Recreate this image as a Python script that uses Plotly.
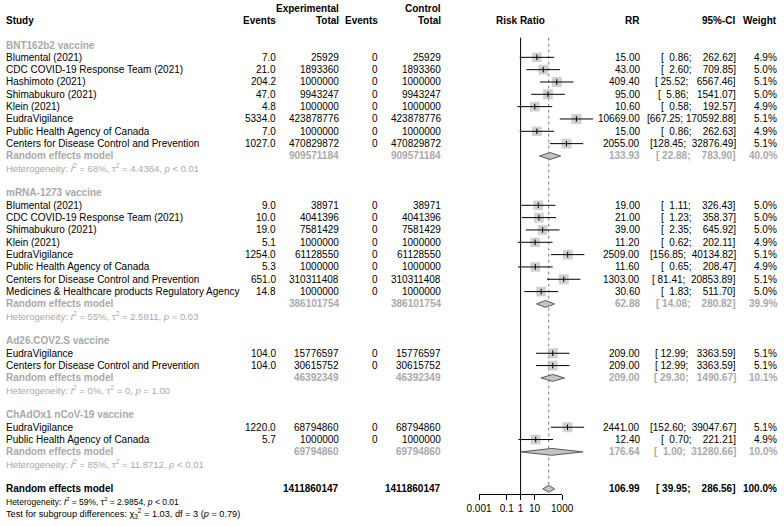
import math
import plotly.graph_objects as go

W, H = 784, 526

# ---------------- data ----------------
group_names = ["BNT162b2 vaccine", "mRNA-1273 vaccine", "Ad26.COV2.S vaccine", "ChAdOx1 nCoV-19 vaccine"]

study_group = [0, 0, 0, 0, 0, 0, 0, 0,
               1, 1, 1, 1, 1, 1, 1, 1,
               2, 2,
               3, 3]
study_names = [
    "Blumental (2021)", "CDC COVID-19 Response Team (2021)", "Hashimoto (2021)", "Shimabukuro (2021)",
    "Klein (2021)", "EudraVigilance", "Public Health Agency of Canada", "Centers for Disease Control and Prevention",
    "Blumental (2021)", "CDC COVID-19 Response Team (2021)", "Shimabukuro (2021)", "Klein (2021)",
    "EudraVigilance", "Public Health Agency of Canada", "Centers for Disease Control and Prevention",
    "Medicines & Healthcare products Regulatory Agency",
    "EudraVigilance", "Centers for Disease Control and Prevention",
    "EudraVigilance", "Public Health Agency of Canada",
]
exp_events = [7.0, 21.0, 204.2, 47.0, 4.8, 5334.0, 7.0, 1027.0,
              9.0, 10.0, 19.0, 5.1, 1254.0, 5.3, 651.0, 14.8,
              104.0, 104.0,
              1220.0, 5.7]
exp_total = [25929, 1893360, 1000000, 9943247, 1000000, 423878776, 1000000, 470829872,
             38971, 4041396, 7581429, 1000000, 61128550, 1000000, 310311408, 1000000,
             15776597, 30615752,
             68794860, 1000000]
ctrl_events = [0, 0, 0, 0, 0, 0, 0, 0,
               0, 0, 0, 0, 0, 0, 0, 0,
               0, 0,
               0, 0]
ctrl_total = [25929, 1893360, 1000000, 9943247, 1000000, 423878776, 1000000, 470829872,
              38971, 4041396, 7581429, 1000000, 61128550, 1000000, 310311408, 1000000,
              15776597, 30615752,
              68794860, 1000000]
rr = [15.00, 43.00, 409.40, 95.00, 10.60, 10669.00, 15.00, 2055.00,
      19.00, 21.00, 39.00, 11.20, 2509.00, 11.60, 1303.00, 30.60,
      209.00, 209.00,
      2441.00, 12.40]
rr_lower = [0.86, 2.60, 25.52, 5.86, 0.58, 667.25, 0.86, 128.45,
            1.11, 1.23, 2.35, 0.62, 156.85, 0.65, 81.41, 1.83,
            12.99, 12.99,
            152.60, 0.70]
rr_upper = [262.62, 709.85, 6567.46, 1541.07, 192.57, 170592.88, 262.63, 32876.49,
            326.43, 358.37, 645.92, 202.11, 40134.82, 208.47, 20853.89, 511.70,
            3363.59, 3363.59,
            39047.67, 221.21]
weight = [4.9, 5.0, 5.1, 5.0, 4.9, 5.1, 4.9, 5.1,
          5.0, 5.0, 5.0, 4.9, 5.1, 4.9, 5.1, 5.0,
          5.1, 5.1,
          5.1, 4.9]

sub_total = [909571184, 386101754, 46392349, 69794860]
sub_rr = [133.93, 62.88, 209.00, 176.64]
sub_lower = [22.88, 14.08, 29.30, 1.00]
sub_upper = [783.90, 280.82, 1490.67, 31280.66]
sub_weight = [40.0, 39.9, 10.1, 10.0]
sub_i2 = ["68%", "55%", "0%", "85%"]
sub_tau2 = ["4.4364", "2.5811", "0", "11.8712"]
sub_p = ["&lt; 0.01", "= 0.03", "= 1.00", "&lt; 0.01"]

tot_total = 1411860147
tot_rr = 106.99
tot_lower = 39.95
tot_upper = 286.56
tot_weight = 100.0
tot_i2 = "59%"
tot_tau2 = "2.9854"
tot_p = "&lt; 0.01"
test_chi2 = "1.03"
test_df = "3"
test_p = "0.79"

tick_vals = [0.001, 0.1, 1, 10, 1000]
tick_text = ["0.001", "0.1", "1", "10", "1000"]

# ---------------- layout constants ----------------
ROW0_PX = 45.0
ROW_H = 12.33
C_PX = 520.6     # pixel of RR = 1
K_PX = 13.85     # pixels per decade
AXIS_PX = 494.0
FONT = "Liberation Sans, Arial, sans-serif"
DARKGRAY = "#A9A9A9"

def row_of_px(p):
    return (p - ROW0_PX) / ROW_H

# row assignment
head_row, study_row, sub_row, het_row = [], [], [], []
r = 0
for g in range(len(group_names)):
    head_row.append(r); r += 1
    for j, sg in enumerate(study_group):
        if sg == g:
            study_row.append(r); r += 1
    sub_row.append(r); r += 1
    het_row.append(r); r += 1
    r += 1
overall_row = r; r += 1
overall_het_row = r; r += 1
test_row = r

# CI formatting
all_lo = rr_lower + sub_lower + [tot_lower]
all_hi = rr_upper + sub_upper + [tot_upper]
wl = max(len(f"{v:.2f}") for v in all_lo)
wh = max(len(f"{v:.2f}") for v in all_hi)

def fmt_ci(lo, hi):
    s = "[" + f"{lo:.2f}".rjust(wl) + "; " + f"{hi:.2f}".rjust(wh) + "]"
    return s.replace(" ", "\u00a0")

fig = go.Figure()

# invisible trace for tick axis (drawn first)
fig.add_trace(go.Scatter(x=tick_vals, y=[test_row] * len(tick_vals), xaxis="x2", yaxis="y",
                         mode="markers", marker=dict(opacity=0, color="white"),
                         hoverinfo="skip", showlegend=False))

# reference lines
fig.add_trace(go.Scatter(x=[1, 1], y=[row_of_px(37.6), row_of_px(AXIS_PX)], mode="lines",
                         line=dict(color="black", width=1), hoverinfo="skip", showlegend=False))
fig.add_trace(go.Scatter(x=[tot_rr, tot_rr], y=[row_of_px(37.6), overall_row - 0.3], mode="lines",
                         line=dict(color="#808080", width=1, dash="dot"), hoverinfo="skip", showlegend=False))

# boxes
fig.add_trace(go.Scatter(x=rr, y=study_row, mode="markers",
                         marker=dict(symbol="square", size=[10 * w / 5.1 for w in weight],
                                     color="#BEBEBE", line=dict(width=0, color="#BEBEBE")),
                         hoverinfo="skip", showlegend=False))
# CI lines
cx, cy = [], []
for lo, hi, yy in zip(rr_lower, rr_upper, study_row):
    cx += [lo, hi, None]
    cy += [yy, yy, None]
fig.add_trace(go.Scatter(x=cx, y=cy, mode="lines", line=dict(color="black", width=1),
                         hoverinfo="skip", showlegend=False))
fig.add_trace(go.Scatter(x=rr, y=study_row, mode="markers",
                         marker=dict(symbol="line-ns-open", size=4, color="black",
                                     line=dict(color="black", width=1)),
                         hoverinfo="skip", showlegend=False))

# diamonds
dh = 0.28
for est, lo, hi, yy in zip(sub_rr + [tot_rr], sub_lower + [tot_lower], sub_upper + [tot_upper],
                           sub_row + [overall_row]):
    fig.add_trace(go.Scatter(x=[lo, est, hi, est, lo], y=[yy, yy - dh, yy, yy + dh, yy],
                             mode="lines", fill="toself", fillcolor="#C4C4C4",
                             line=dict(color="#5A5A5A", width=1), hoverinfo="skip", showlegend=False))

# ---------------- text ----------------
ann = []
def txt(xp, row, s, anchor="right", color="black", size=10, bold=False):
    if bold:
        s = "<b>" + s + "</b>"
    ann.append(dict(x=xp / W, xref="paper", y=row, yref="y", text=s, showarrow=False,
                    xanchor=anchor, yanchor="middle", borderpad=0,
                    font=dict(family=FONT, size=size, color=color)))

X_STUDY, X_EEV, X_ETOT, X_CEV, X_CTOT, X_RRH, X_RR, X_CI, X_W = 5, 277, 340, 379, 442, 520.6, 641, 737, 778

# headers
txt(X_ETOT, -3, "Experimental", bold=True)
txt(X_CTOT, -3, "Control", bold=True)
txt(X_STUDY, -2, "Study", anchor="left", bold=True)
txt(X_EEV, -2, "Events", bold=True)
txt(X_ETOT, -2, "Total", bold=True)
txt(X_CEV, -2, "Events", bold=True)
txt(X_CTOT, -2, "Total", bold=True)
txt(X_RRH, -2, "Risk Ratio", anchor="center", bold=True)
txt(X_RR, -2, "RR", bold=True)
txt(X_CI, -2, "95%-CI", bold=True)
txt(X_W, -2, "Weight", bold=True)

for g in range(len(group_names)):
    txt(X_STUDY, head_row[g], group_names[g], anchor="left", color=DARKGRAY, bold=True)

for i in range(len(study_names)):
    yy = study_row[i]
    txt(X_STUDY, yy, study_names[i], anchor="left")
    txt(X_EEV, yy, f"{exp_events[i]:.1f}")
    txt(X_ETOT, yy, f"{exp_total[i]}")
    txt(X_CEV, yy, f"{ctrl_events[i]}")
    txt(X_CTOT, yy, f"{ctrl_total[i]}")
    txt(X_RR, yy, f"{rr[i]:.2f}")
    txt(X_CI, yy, fmt_ci(rr_lower[i], rr_upper[i]))
    txt(X_W, yy, f"{weight[i]:.1f}%")

for g in range(len(group_names)):
    yy = sub_row[g]
    txt(X_STUDY, yy, "Random effects model", anchor="left", color=DARKGRAY, bold=True)
    txt(X_ETOT, yy, f"{sub_total[g]}", color=DARKGRAY, bold=True)
    txt(X_CTOT, yy, f"{sub_total[g]}", color=DARKGRAY, bold=True)
    txt(X_RR, yy, f"{sub_rr[g]:.2f}", color=DARKGRAY, bold=True)
    txt(X_CI, yy, fmt_ci(sub_lower[g], sub_upper[g]), color=DARKGRAY, bold=True)
    txt(X_W, yy, f"{sub_weight[g]:.1f}%", color=DARKGRAY, bold=True)
    het = ("Heterogeneity: <i>I</i><sup>2</sup> = " + sub_i2[g] + ", \u03c4<sup>2</sup> = " + sub_tau2[g]
           + ", <i>p</i> " + sub_p[g])
    txt(X_STUDY, het_row[g], het, anchor="left", color=DARKGRAY, size=9.5)

yy = overall_row
txt(X_STUDY, yy, "Random effects model", anchor="left", bold=True)
txt(X_ETOT, yy, f"{tot_total}", bold=True)
txt(X_CTOT, yy, f"{tot_total}", bold=True)
txt(X_RR, yy, f"{tot_rr:.2f}", bold=True)
txt(X_CI, yy, fmt_ci(tot_lower, tot_upper), bold=True)
txt(X_W, yy, f"{tot_weight:.1f}%", bold=True)
txt(X_STUDY, overall_het_row,
    "Heterogeneity: <i>I</i><sup>2</sup> = " + tot_i2 + ", \u03c4<sup>2</sup> = " + tot_tau2 + ", <i>p</i> " + tot_p,
    anchor="left", size=8.5)
txt(X_STUDY, test_row,
    "Test for subgroup differences: \u03c7<sub>3</sub><sup>2</sup> = " + test_chi2 + ", df = " + test_df
    + " (<i>p</i> = " + test_p + ")", anchor="left", size=9.2)

ymin = -ROW0_PX / ROW_H
ymax = ymin + H / ROW_H

fig.update_layout(
    width=W, height=H, autosize=False,
    margin=dict(l=0, r=0, t=0, b=0, pad=0, autoexpand=False),
    paper_bgcolor="white", plot_bgcolor="rgba(0,0,0,0)",
    showlegend=False, hovermode=False,
    font=dict(family=FONT, size=10, color="black"),
    xaxis=dict(type="log", range=[-C_PX / K_PX, (W - C_PX) / K_PX], domain=[0, 1],
               visible=False, showgrid=False, zeroline=False, automargin=False),
    yaxis=dict(range=[ymax, ymin], domain=[0, 1], visible=False, showgrid=False, zeroline=False,
               automargin=False),
    xaxis2=dict(type="log", range=[-3, 3],
                domain=[(C_PX - 3 * K_PX) / W, (C_PX + 3 * K_PX) / W],
                anchor="free", position=1 - AXIS_PX / H, automargin=False,
                showline=True, linecolor="black", linewidth=1,
                ticks="outside", ticklen=5, tickwidth=1, tickcolor="black",
                tickvals=tick_vals, ticktext=tick_text,
                tickfont=dict(family=FONT, size=10, color="black"),
                showgrid=False, zeroline=False),
    annotations=ann,
)

fig.write_html(
    "out.html",
    config={"responsive": False, "displayModeBar": False},
    post_script="document.body.style.margin='0';document.body.style.padding='0';"
                "document.body.style.overflow='hidden';document.documentElement.style.overflow='hidden';",
)
